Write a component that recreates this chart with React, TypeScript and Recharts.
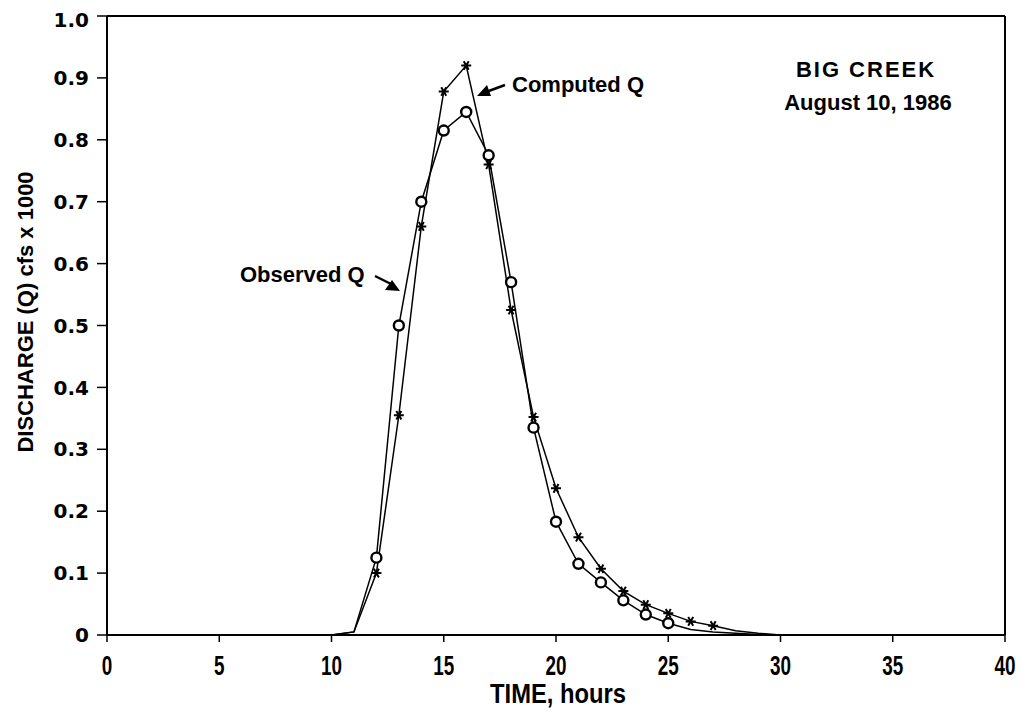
import React from 'react';
import { LineChart, Line, XAxis, YAxis, ReferenceLine } from 'recharts';

// hydrograph values, discharge in cfs x 1000
const hours = [0, 5, 10, 11, 12, 13, 14, 15, 16, 17, 18, 19, 20, 21, 22, 23, 24, 25, 26, 27, 28, 29, 30, 35, 40];
const observedQ = [0, 0, 0, 0.005, 0.125, 0.5, 0.7, 0.815, 0.845, 0.775, 0.57, 0.335, 0.183, 0.115, 0.085, 0.056, 0.033, 0.019, 0.009, 0.005, 0.003, 0.001, 0, 0, 0];
const computedQ = [0, 0, 0, 0.005, 0.1, 0.355, 0.66, 0.878, 0.92, 0.76, 0.525, 0.352, 0.237, 0.158, 0.107, 0.071, 0.049, 0.035, 0.022, 0.015, 0.007, 0.003, 0, 0, 0];

// hours that carry a plotted symbol
const observedMarked = [12, 13, 14, 15, 16, 17, 18, 19, 20, 21, 22, 23, 24, 25];
const computedMarked = [12, 13, 14, 15, 16, 17, 18, 19, 20, 21, 22, 23, 24, 25, 26, 27];

const xTicks = [0, 5, 10, 15, 20, 25, 30, 35, 40];
const yTicks = [0, 0.1, 0.2, 0.3, 0.4, 0.5, 0.6, 0.7, 0.8, 0.9, 1.0];

const data = hours.map((t, i) => ({ t, observed: observedQ[i], computed: computedQ[i] }));

const FONT = '"Liberation Sans", Arial, sans-serif';
const WIDE = '"DejaVu Sans", sans-serif';

const CircleDot = (props: any) => {
  const { cx, cy, payload, index } = props;
  if (!observedMarked.includes(payload.t)) return <g key={`o${index}`} />;
  return <circle key={`o${index}`} cx={cx} cy={cy} r={5} fill="#fff" stroke="#000" strokeWidth={2.4} />;
};

const StarDot = (props: any) => {
  const { cx, cy, payload, index } = props;
  if (!computedMarked.includes(payload.t)) return <g key={`c${index}`} />;
  const r = 5;
  const d = `M${cx - r},${cy} L${cx + r},${cy} M${cx - r * 0.5},${cy - r * 0.87} L${cx + r * 0.5},${cy + r * 0.87} M${cx - r * 0.5},${cy + r * 0.87} L${cx + r * 0.5},${cy - r * 0.87}`;
  return <path key={`c${index}`} d={d} stroke="#000" strokeWidth={2} fill="none" />;
};

// narrow, tall hour numbers
const HourTick = (props: any) => {
  const { x, y, payload } = props;
  return (
    <g transform={`translate(${x},${y})`}>
      <text transform="scale(0.7,1)" y={31} textAnchor="middle" fontFamily={FONT} fontWeight={700} fontSize={27} fill="#000">
        {payload.value}
      </text>
    </g>
  );
};

const fmtY = (v: number) => (v === 0 ? '0' : v.toFixed(1));

export default function App() {
  return (
    <div style={{ position: 'relative', width: 1015, height: 706, background: '#fff', fontFamily: FONT }}>
      <LineChart width={1015} height={706} data={data} margin={{ top: 8, right: 18, bottom: 29, left: 39 }}>
        <XAxis
          dataKey="t"
          type="number"
          domain={[0, 40]}
          ticks={xTicks}
          height={50}
          tickSize={7}
          tick={<HourTick />}
          axisLine={{ stroke: '#000', strokeWidth: 2 }}
          tickLine={{ stroke: '#000', strokeWidth: 1.5 }}
        />
        <YAxis
          type="number"
          domain={[0, 1]}
          ticks={yTicks}
          tickFormatter={fmtY}
          width={60}
          tickSize={10}
          tickMargin={8}
          tick={{ fontSize: 20, fontWeight: 700, fill: '#000', fontFamily: WIDE }}
          axisLine={{ stroke: '#000', strokeWidth: 2 }}
          tickLine={{ stroke: '#000', strokeWidth: 1.5 }}
        />
        <ReferenceLine y={1} stroke="#000" strokeWidth={2} />
        <ReferenceLine x={40} stroke="#000" strokeWidth={2} />
        <Line
          dataKey="observed"
          stroke="#000"
          strokeWidth={1.5}
          dot={CircleDot}
          activeDot={false}
          isAnimationActive={false}
        />
        <Line
          dataKey="computed"
          stroke="#000"
          strokeWidth={1.5}
          dot={StarDot}
          activeDot={false}
          isAnimationActive={false}
        />
      </LineChart>
      {/* axis titles, callouts and site caption */}
      <svg width={1015} height={706} style={{ position: 'absolute', left: 0, top: 0, pointerEvents: 'none' }}>
        <g fontFamily={FONT} fill="#000" fontWeight={700}>
          <text transform="translate(550,695) scale(0.88,1)" textAnchor="middle" fontSize={27}>TIME, hours</text>
          <text transform="translate(25,304) rotate(-90)" textAnchor="middle" fontSize={22}>DISCHARGE (Q) cfs x 1000</text>
          <g fontSize={22}>
            <text x={504} y={84}>Computed Q</text>
            <text x={232} y={274}>Observed Q</text>
            <text x={858} y={69} textAnchor="middle" letterSpacing={2}>BIG CREEK</text>
            <text x={860} y={102} textAnchor="middle">August 10, 1986</text>
          </g>
          <path d="M497,77 L478,84" stroke="#000" strokeWidth={2.5} />
          <path d="M469,88 L479,77 L483,88 Z" fill="#000" />
          <path d="M367,268 L383,276" stroke="#000" strokeWidth={2.5} />
          <path d="M392,283 L377,282 L384,272 Z" fill="#000" />
        </g>
      </svg>
    </div>
  );
}
